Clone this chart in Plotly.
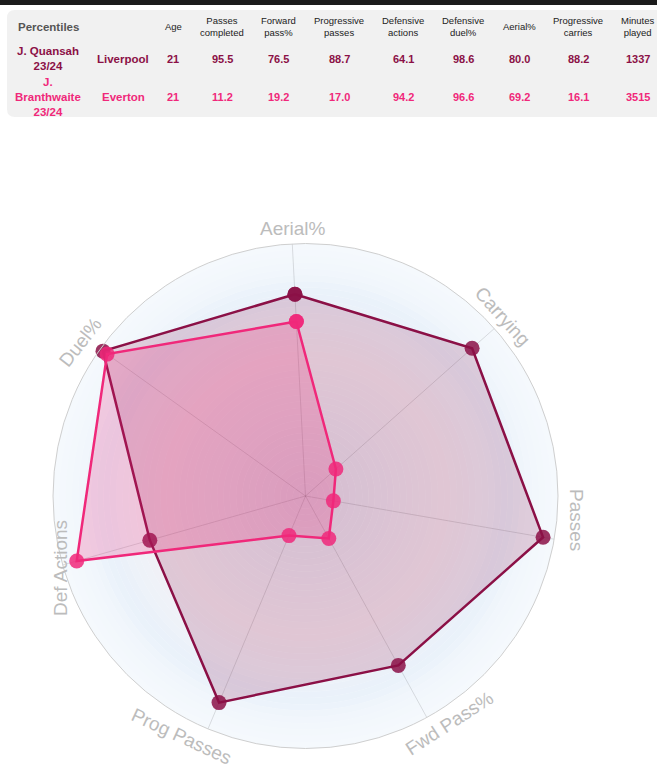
import plotly.graph_objects as go

W, H = 657, 776

# ---- table data ----
headers = ["Percentiles", "", "Age", "Passes<br>completed", "Forward<br>pass%",
           "Progressive<br>passes", "Defensive<br>actions", "Defensive<br>duel%",
           "Aerial%", "Progressive<br>carries", "Minutes<br>played"]
players = ["J. Quansah<br>23/24", "J.<br>Branthwaite<br>23/24"]
teams = ["Liverpool", "Everton"]
age = [21, 21]
passes_completed = [95.5, 11.2]
forward_pass = [76.5, 19.2]
progressive_passes = [88.7, 17.0]
defensive_actions = [64.1, 94.2]
defensive_duel = [98.6, 96.6]
aerial = [80.0, 69.2]
progressive_carries = [88.2, 16.1]
minutes = [1337, 3515]

# ---- radar ----
categories = ["Aerial%", "Carrying", "Passes", "Fwd Pass%", "Prog Passes", "Def Actions", "Duel%"]
player_colors = ["#8b1046", "#f0287a"]
player_rgb = ["139,16,70", "240,40,122"]
fill_alpha = [0.18, 0.22]

# soft radial tint behind the radar: (radius, colour) stops
bg_stops = [(0, "#e4e3ef"), (30, "#ecebf3"), (55, "#f3eef3"), (70, "#eff2f8"),
            (80, "#e9f1fa"), (90, "#f2f7fc"), (100, "#f5f9fd")]

FONT = "Arial, Liberation Sans, sans-serif"


def px2paper(x, y):
    return x / W, 1 - y / H


def hex2rgb(h):
    return [int(h[k:k + 2], 16) for k in (1, 3, 5)]


def tint_at(r):
    for (ra, ca), (rb, cb) in zip(bg_stops[:-1], bg_stops[1:]):
        if ra <= r <= rb:
            t = (r - ra) / (rb - ra)
            a, b = hex2rgb(ca), hex2rgb(cb)
            return "rgb(%d,%d,%d)" % tuple(round(a[k] + (b[k] - a[k]) * t) for k in range(3))
    return bg_stops[-1][1]


# polar geometry in pixels
cx, cy, R = 305.5, 496, 252.5
dom_x = [(cx - R) / W, (cx + R) / W]
dom_y = [(H - cy - R) / H, (H - cy + R) / H]

fig = go.Figure()

# background gradient rings, 2.5 units each
step = 2.5
r0 = 0.0
while r0 < 100:
    fig.add_trace(go.Barpolar(r=[step], base=[r0], theta=[0], width=[360],
                              marker=dict(color=tint_at(r0 + step / 2), line=dict(width=0)),
                              hoverinfo="skip", showlegend=False, subplot="polar"))
    r0 += step

for i in range(2):
    vals = [aerial[i], progressive_carries[i], passes_completed[i], forward_pass[i],
            progressive_passes[i], defensive_actions[i], defensive_duel[i]]
    fig.add_trace(go.Scatterpolar(
        r=vals + vals[:1], theta=categories + categories[:1],
        mode="lines+markers", fill="toself",
        fillcolor=f"rgba({player_rgb[i]},{fill_alpha[i]})",
        line=dict(color=player_colors[i], width=2.5),
        marker=dict(size=15, color=f"rgba({player_rgb[i]},0.85)"),
        name=players[i].replace("<br>", " "), showlegend=False, subplot="polar2"))

fig.update_layout(
    width=W, height=H, margin=dict(l=0, r=0, t=0, b=0),
    paper_bgcolor="white", plot_bgcolor="white",
    polar=dict(domain=dict(x=dom_x, y=dom_y), bgcolor="#f5f9fd", barmode="overlay",
               radialaxis=dict(range=[0, 100], visible=False, showgrid=False),
               angularaxis=dict(visible=False, showgrid=False)),
    polar2=dict(domain=dict(x=dom_x, y=dom_y), bgcolor="rgba(0,0,0,0)",
                radialaxis=dict(range=[0, 100], visible=False, showgrid=False),
                angularaxis=dict(direction="clockwise", rotation=93,
                                 showticklabels=False, ticks="",
                                 showgrid=True, gridcolor="rgba(0,0,0,0.12)", gridwidth=1,
                                 showline=True, linecolor="#cfcfcf", linewidth=1)),
)

# axis labels (tangential)
label_pos = {"Aerial%": (293, 228, 0), "Carrying": (503, 316, 48), "Passes": (577, 520, 90),
             "Fwd Pass%": (449, 723, -33), "Prog Passes": (182, 736, 25),
             "Def Actions": (60, 568, -90), "Duel%": (80, 342, -52)}
for cat in categories:
    x, y, ang = label_pos[cat]
    px_, py_ = px2paper(x, y)
    fig.add_annotation(x=px_, y=py_, xref="paper", yref="paper", text=cat, showarrow=False,
                       textangle=ang, xanchor="center", yanchor="middle",
                       font=dict(family=FONT, size=19, color="#bcbcbc"))

# ---- table box ----
x0, x1 = 7 / W, 1.02
yt, yb = 1 - 10 / H, 1 - 117 / H
rx, ry = 8 / W, 8 / H
fig.add_shape(type="path", xref="paper", yref="paper", layer="below",
              path=(f"M {x0 + rx},{yt} L {x1},{yt} L {x1},{yb} L {x0 + rx},{yb} "
                    f"Q {x0},{yb} {x0},{yb + ry} L {x0},{yt - ry} Q {x0},{yt} {x0 + rx},{yt} Z"),
              fillcolor="#f1f1f1", line=dict(width=0))
# dark strip along the very top
fig.add_shape(type="rect", xref="paper", yref="paper", layer="above",
              x0=-0.01, x1=1.01, y0=1 - 5 / H, y1=1.01,
              fillcolor="#1c1c1c", line=dict(width=0))

col_x = [48, 123, 173, 222, 278, 339, 403, 463, 519, 578, 638]
row_y = [59, 97]
header_y = 27

for j, h in enumerate(headers):
    if not h:
        continue
    px_, py_ = px2paper(col_x[j], header_y)
    if j == 0:
        f = dict(family=FONT, size=11.5, color="#555555")
        h = f"<b>{h}</b>"
    else:
        f = dict(family=FONT, size=9.5, color="#222222")
    fig.add_annotation(x=px_, y=py_, xref="paper", yref="paper", text=h, showarrow=False,
                       xanchor="center", yanchor="middle", font=f)

for i in range(2):
    row = [players[i], teams[i], str(age[i]),
           f"{passes_completed[i]:.1f}", f"{forward_pass[i]:.1f}",
           f"{progressive_passes[i]:.1f}", f"{defensive_actions[i]:.1f}",
           f"{defensive_duel[i]:.1f}", f"{aerial[i]:.1f}",
           f"{progressive_carries[i]:.1f}", str(minutes[i])]
    for j, txt in enumerate(row):
        px_, py_ = px2paper(col_x[j], row_y[i])
        size = 11.5 if j < 2 else 11
        fig.add_annotation(x=px_, y=py_, xref="paper", yref="paper", text=f"<b>{txt}</b>",
                           showarrow=False, xanchor="center", yanchor="middle",
                           font=dict(family=FONT, size=size, color=player_colors[i]))

# page has a default 8px body margin; drop it so the figure fills the window
fig.write_html("out.html", config={"displayModeBar": False},
               post_script="document.body.style.margin='0';document.body.style.overflow='hidden';")
